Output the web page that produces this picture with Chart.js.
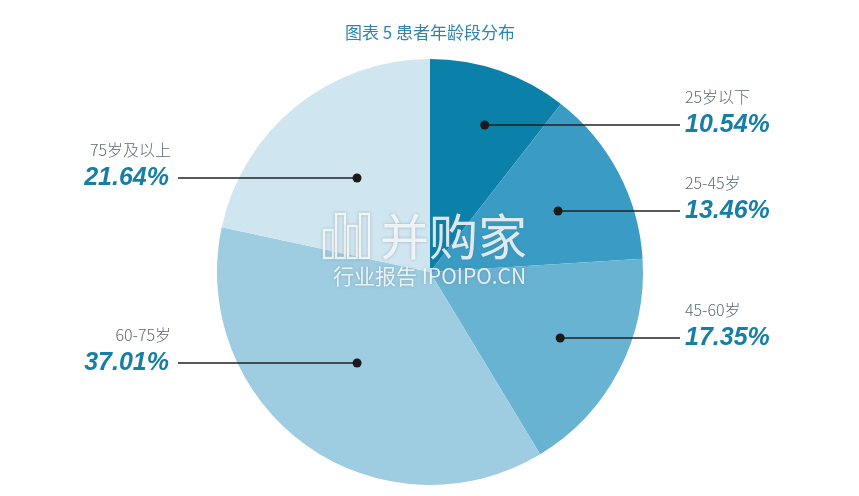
<!DOCTYPE html>
<html lang="zh">
<head>
<meta charset="utf-8" />
<title>患者年龄段分布</title>
<style>
  html, body { margin: 0; padding: 0; background: #fff; }
  #wrap { width: 859px; height: 496px; position: relative; }
</style>
</head>
<body>
<div id="wrap"><canvas id="ageChart"></canvas></div>

<script src="https://cdn.jsdelivr.net/npm/chart.js@4.4.1/dist/chart.umd.min.js"></script>
<script>
// data
const titleText = '图表 5 患者年龄段分布';
const ageGroups = ['25岁以下', '25-45岁', '45-60岁', '60-75岁', '75岁及以上'];
const shares = [10.54, 13.46, 17.35, 37.01, 21.64];
const sliceColors = ['#0b80a9', '#3a9cc4', '#69b3d2', '#9ecde2', '#cfe5f0'];

// where the callouts sit (style only)
const dotRadius = [0.79, 0.68, 0.69, 0.59, 0.545];
const labelRows = [125, 211, 338, 363, 178];   // y of the percentage line
const rightX = 685, leftX = 169;

const calloutPlugin = {
  id: 'callouts',
  afterDatasetsDraw(chart) {
    const ctx = chart.ctx;
    const meta = chart.getDatasetMeta(0);
    ctx.save();

    // watermark
    ctx.shadowColor = 'rgba(90,110,120,0.55)';
    ctx.shadowBlur = 3;
    ctx.fillStyle = 'rgba(255,255,255,0.82)';
    ctx.strokeStyle = 'rgba(255,255,255,0.82)';
    ctx.font = '49px "Noto Sans CJK SC"';
    ctx.textAlign = 'left';
    ctx.textBaseline = 'middle';
    ctx.fillText('并购家', 380, 236);
    ctx.lineWidth = 2.5;
    [[324, 230, 9, 28], [336, 214, 9, 44], [348, 226, 9, 32], [360, 214, 9, 44]].forEach(r => ctx.strokeRect(r[0], r[1], r[2], r[3]));
    ctx.font = '21px "Noto Sans CJK SC"';
    ctx.fillText('行业报告 IPOIPO.CN', 333, 276);
    ctx.shadowBlur = 0;
    ctx.shadowColor = 'transparent';

    meta.data.forEach((arc, i) => {
      const p = arc.getProps(['x', 'y', 'startAngle', 'endAngle', 'outerRadius'], true);
      const mid = (p.startAngle + p.endAngle) / 2;
      const r = p.outerRadius * dotRadius[i];
      const dx = p.x + Math.cos(mid) * r;
      const rowY = labelRows[i];
      const right = Math.cos(mid) >= 0;

      ctx.strokeStyle = '#222';
      ctx.lineWidth = 1.6;
      ctx.beginPath();
      ctx.moveTo(dx, rowY);
      ctx.lineTo(right ? rightX - 5 : leftX + 9, rowY);
      ctx.stroke();
      ctx.fillStyle = '#1a1a1a';
      ctx.beginPath();
      ctx.arc(dx, rowY, 4.5, 0, Math.PI * 2);
      ctx.fill();

      ctx.textAlign = right ? 'left' : 'right';
      ctx.textBaseline = 'middle';
      const tx = right ? rightX : leftX;
      ctx.fillStyle = '#5b6b75';
      ctx.font = '300 16px "Noto Sans CJK SC"';
      ctx.fillText(ageGroups[i], right ? tx : tx + 2, rowY - 28);
      ctx.fillStyle = '#177fa6';
      ctx.font = 'italic bold 25px "Liberation Sans"';
      ctx.fillText(shares[i].toFixed(2) + '%', tx, rowY);
    });
    ctx.restore();
  }
};

new Chart(document.getElementById('ageChart'), {
  type: 'pie',
  data: {
    labels: ageGroups,
    datasets: [{
      data: shares,
      backgroundColor: sliceColors,
      borderWidth: 0
    }]
  },
  options: {
    responsive: true,
    maintainAspectRatio: false,
    animation: false,
    layout: { padding: { top: 59, bottom: 11, left: 1, right: 0 } },
    plugins: {
      legend: { display: false },
      tooltip: { enabled: false },
      title: { display: false }
    }
  },
  plugins: [calloutPlugin, {
    id: 'topTitle',
    afterDraw(chart) {
      const ctx = chart.ctx;
      ctx.save();
      ctx.fillStyle = '#2d86a9';
      ctx.font = '17px "Noto Sans CJK SC"';
      ctx.textAlign = 'center';
      ctx.textBaseline = 'middle';
      ctx.fillText(titleText, 430, 33);
      ctx.restore();
    }
  }]
});
</script>
</body>
</html>
